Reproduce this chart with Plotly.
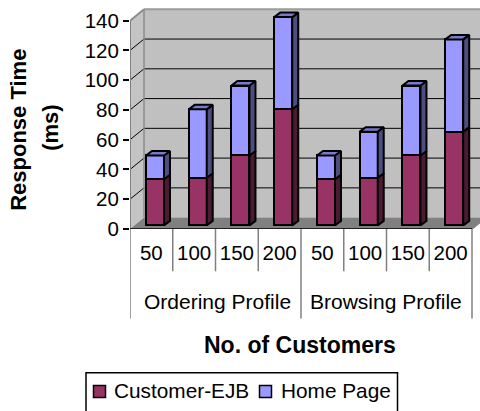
import plotly.graph_objects as go

# Response time per customer load, stacked by component
customers = ["50", "100", "150", "200", "50", "100", "150", "200"]
profiles = ["Ordering Profile", "Browsing Profile"]
customer_ejb = [31, 32, 47, 78, 31, 32, 47, 63]
home_page = [16, 46, 47, 62, 16, 31, 47, 62]
y_ticks = [0, 20, 40, 60, 80, 100, 120, 140]

FONT = "Liberation Sans"
EJB_COLOUR, HOME_COLOUR = "#993366", "#9999ff"
W, H = 480, 411
LEFT, ZERO = 130.0, 229.3      # pixel position of the axis origin
SLOT = 42.75                   # pixels per category
UNIT = 1.49                    # pixels per millisecond
TOP = 8.0                      # top of the plotting area in pixels
DEPTH_X, DEPTH_Y = 14.0, 11.4  # wall depth in pixels
BAR_W, BAR_SHIFT = 18.0, 3.6   # bar width and offset from the slot centre
BAR_DX, BAR_DY = 6.0, 4.5      # depth of each bar in pixels


def xd(dpx):
    return dpx / SLOT


def yd(dpx):
    return dpx / UNIT


def path(points):
    return "M" + "L".join(f"{x:.4f},{y:.4f}" for x, y in points) + "Z"


x_max = (W - LEFT) / SLOT
y_max = (ZERO - TOP) / UNIT
dx, dy = xd(DEPTH_X), yd(DEPTH_Y)
shapes = []


def polygon(points, fill, line="rgba(0,0,0,0)", width=0):
    shapes.append(dict(type="path", path=path(points), fillcolor=fill, layer="below",
                       line=dict(color=line, width=width), xref="x", yref="y"))


def segment(x0, y0, x1, y1, color, width):
    shapes.append(dict(type="line", x0=x0, y0=y0, x1=x1, y1=y1, layer="below",
                       line=dict(color=color, width=width), xref="x", yref="y"))


# Back wall, side wall and floor of the 3D box
polygon([(dx, dy), (9, dy), (9, 140 + dy), (dx, 140 + dy)], "#c0c0c0")
polygon([(0, 0), (dx, dy), (dx, 140 + dy), (0, 140)], "#c4c4c4")
polygon([(0, 0), (dx, dy), (8 + dx, dy), (8, 0)], "#808080")
for v in y_ticks[1:-1]:
    segment(0, v, dx, v + dy, "#000000", 1)
    segment(dx, v + dy, 9, v + dy, "#000000", 1)
segment(0, 140, dx, 140 + dy, "#8c8c8c", 2)
segment(dx, 140 + dy, 9, 140 + dy, "#9a9a9a", 2)
segment(dx, dy, dx, 140 + dy, "#8c8c8c", 1.5)
segment(8, 0, 8 + dx, dy, "#808080", 1.5)

# Dividers under the axis for the two category levels
paper = lambda py: (ZERO - py) / (ZERO - TOP)
paper_x = lambda px: (px - LEFT) / (W - LEFT)
for i in range(9):
    bottom = 319.0 if i % 4 == 0 else 271.7
    shapes.append(dict(type="line", xref="x", yref="paper", x0=i, x1=i,
                       y0=paper(ZERO), y1=paper(bottom),
                       line=dict(color="#808080", width=1.5)))

centres = [i + 0.5 + xd(BAR_SHIFT) for i in range(len(customers))]
half = xd(BAR_W) / 2
lift = yd(ZERO - 225.7)
bdx, bdy = xd(BAR_DX), yd(BAR_DY)
stack_top = [a + b for a, b in zip(customer_ejb, home_page)]

fig = go.Figure()
fig.add_bar(name="Customer-EJB", x=centres, y=customer_ejb, base=[lift] * 8, showlegend=False,
            width=xd(BAR_W), marker=dict(color=EJB_COLOUR, line=dict(color="#000000", width=2)))
fig.add_bar(name="Home Page", x=centres, y=home_page, base=[lift + v for v in customer_ejb],
            showlegend=False, width=xd(BAR_W),
            marker=dict(color=HOME_COLOUR, line=dict(color="#000000", width=2)))


def faces(lows, highs, colour):
    """Right-hand side faces of the bars between two value lists."""
    xs, ys = [], []
    for c, lo, hi in zip(centres, lows, highs):
        r = c + half
        xs += [r, r + bdx, r + bdx, r, r, None]
        ys += [lift + lo, lift + lo + bdy, lift + hi + bdy, lift + hi, lift + lo, None]
    fig.add_scatter(x=xs, y=ys, mode="lines", fill="toself", fillcolor=colour,
                    line=dict(color="#000000", width=2), showlegend=False, hoverinfo="skip")


faces([0] * 8, customer_ejb, "#4d1a33")
faces(customer_ejb, stack_top, "#4d4d80")

# Top caps of the stacks
cap_x, cap_y = [], []
for c, t in zip(centres, stack_top):
    cap_x += [c - half, c - half + bdx, c + half + bdx, c + half, c - half, None]
    cap_y += [lift + t, lift + t + bdy, lift + t + bdy, lift + t, lift + t, None]
fig.add_scatter(x=cap_x, y=cap_y, mode="lines", fill="toself", fillcolor="#7a7acc",
                line=dict(color="#000000", width=2), showlegend=False, hoverinfo="skip")

# Legend frame and keys
shapes.append(dict(type="rect", xref="paper", yref="paper",
                   x0=paper_x(86), x1=paper_x(397.5), y0=paper(420), y1=paper(373.3),
                   line=dict(color="#000000", width=1.5)))
for x0, colour in ((93.5, EJB_COLOUR), (259.5, HOME_COLOUR)):
    shapes.append(dict(type="rect", xref="paper", yref="paper",
                       x0=paper_x(x0), x1=paper_x(x0 + 12), y0=paper(398), y1=paper(386),
                       fillcolor=colour, line=dict(color="#000000", width=1.5)))


def label(text, px, py, size, angle=0, xanchor="center"):
    return dict(text=text, x=paper_x(px), y=paper(py), xref="paper", yref="paper",
                xanchor=xanchor, yanchor="middle", showarrow=False, textangle=angle,
                font=dict(size=size))


annotations = [
    label(profiles[0], 217, 301.5, 21),
    label(profiles[1], 386, 301.5, 21),
    label("<b>No. of Customers</b>", 300, 345, 23),
    label("<b>Response Time</b>", 19, 130, 22, angle=-90),
    label("<b>(ms)</b>", 51, 128, 22, angle=-90),
    label("Customer-EJB", 112, 391.5, 20.8, xanchor="left"),
    label("Home Page", 279, 391.5, 20.8, xanchor="left"),
]

fig.update_layout(
    width=W, height=H, autosize=False, barmode="overlay", bargap=0,
    margin=dict(l=LEFT, r=0, t=TOP, b=H - ZERO, pad=0),
    paper_bgcolor="#ffffff", plot_bgcolor="#ffffff", showlegend=False,
    font=dict(family=FONT, size=20.5, color="#000000"),
    shapes=shapes, annotations=annotations,
    xaxis=dict(range=[0, x_max], tickmode="array", tickvals=[i + 0.5 for i in range(8)],
               ticktext=customers, ticks="", showgrid=False, zeroline=False, showline=False,
               ticklabelstandoff=9, tickangle=0, fixedrange=True),
    yaxis=dict(range=[0, y_max], tickmode="array", tickvals=y_ticks, ticks="outside", ticklen=6,
               tickwidth=1.5, tickcolor="#000000", showgrid=False, zeroline=False,
               showline=False, fixedrange=True),
)

# Axis lines sit above the box
fig.add_shape(type="line", xref="x", yref="y", x0=0, x1=0, y0=0, y1=140,
              line=dict(color="#808080", width=2))
fig.add_shape(type="line", xref="x", yref="y", x0=0, x1=8, y0=0, y1=0,
              line=dict(color="#000000", width=1.5))

fig.write_html("out.html", config=dict(displayModeBar=False))
